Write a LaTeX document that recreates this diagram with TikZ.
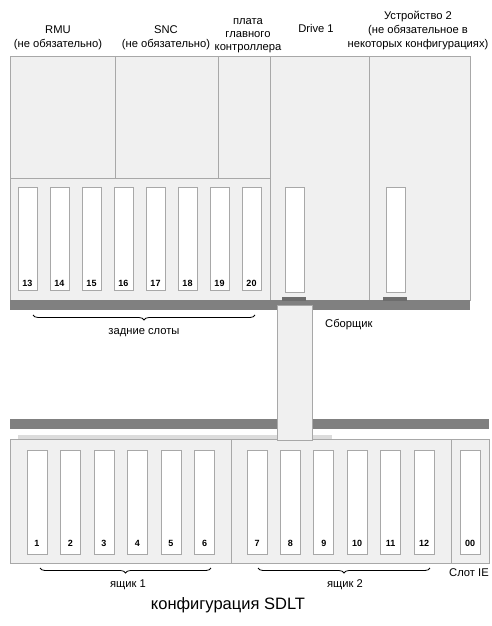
\documentclass[tikz,border=0pt]{standalone}
\usepackage{fontspec}
\setmainfont{Liberation Sans}
\usetikzlibrary{decorations.pathreplacing}
\definecolor{panel}{HTML}{F0F0F0}
\definecolor{edge}{HTML}{A8A8A8}
\definecolor{bar}{HTML}{808080}
\definecolor{rail}{HTML}{DCDCDC}
\tikzset{
  panelbox/.style={fill=panel,draw=edge,line width=0.8pt},
  barbox/.style={fill=bar,draw=none},
  slotbox/.style={rectangle,fill=white,draw=edge,line width=0.8pt,inner sep=0pt,outer sep=0pt,minimum width=19pt,minimum height=103pt},
  bslot/.style={slotbox,minimum width=20pt,minimum height=104pt},
  num/.style={font=\fontsize{9}{10}\selectfont\bfseries,inner sep=0pt},
  lbl/.style={font=\fontsize{11.2}{14}\selectfont,align=center,inner sep=0pt},
  bracedec/.style={decorate,decoration={brace,mirror,amplitude=5pt},line width=0.8pt},
  connbox/.style={fill=bar!85!black,draw=none}
}
\begin{document}
\begin{tikzpicture}[x=1pt,y=-1pt]
\useasboundingbox (0,0) rectangle (492,626);
% top chassis
\draw[panelbox] (10,56) rectangle (270,178);
\draw[edge,line width=0.8pt] (115,56) -- (115,178) (218,56) -- (218,178);
\draw[panelbox] (10,178) rectangle (270,300);
\draw[panelbox] (270,56) rectangle (369,300);
\draw[panelbox] (369,56) rectangle (470,300);
\fill[barbox] (10,300) rectangle (470,310);
% rear slots
\foreach \n [count=\i from 0] in {13,...,20} {
  \node[slotbox] (s\n) at (27.5+32*\i,238.5) {};
  \node[num] (n\n) at (27.5+32*\i,283) {\n};
}
\node[slotbox,minimum height=105pt] (sd1) at (294.5,239.5) {};
\node[slotbox,minimum height=105pt] (sd2) at (395.5,239.5) {};
\fill[connbox] (282,297) rectangle (306,301);
\fill[connbox] (383,297) rectangle (407,301);
% bottom chassis
\fill[barbox] (10,419) rectangle (489,429);
\fill[rail] (18,435) rectangle (332,438.5);
\draw[panelbox] (10,439) rectangle (231,563);
\draw[panelbox] (231,439) rectangle (451,563);
\draw[panelbox] (451,439) rectangle (489,563);
\foreach \n [count=\i from 0] in {1,...,6} {
  \node[bslot] (s\n) at (37+33.5*\i,502) {};
  \node[num] (n\n) at (37+33.5*\i,543) {\n};
}
\foreach \n [count=\i from 0] in {7,...,12} {
  \node[bslot] (s\n) at (257+33.4*\i,502) {};
  \node[num] (n\n) at (257+33.4*\i,543) {\n};
}
\node[bslot] (s00) at (470,502) {};
\node[num] (n00) at (470,543) {00};
% picker column
\draw[panelbox] (277,305) rectangle (312,440);
% top labels
\node[lbl] (rmu) at (58,38) {RMU\\(не обязательно)};
\node[lbl] (snc) at (166,38) {SNC\\(не обязательно)};
\node[lbl,font=\fontsize{11.2}{13}\selectfont] (ctl) at (248,35.5) {плата\\главного\\контроллера};
\node[lbl] (drv) at (316,28) {Drive 1};
\node[lbl] (dev) at (418,31) {Устройство 2\\(не обязательное в\\некоторых конфигурациях)};
\node[lbl,anchor=west] (pick) at (325,325) {Сборщик};
% braces
\coordinate (b1a) at (33,315); \coordinate (b1b) at (255,315);
\draw[bracedec] (b1a) -- (b1b);
\node[lbl] (rear) at (144,333) {задние слоты};
\coordinate (b2a) at (40,568); \coordinate (b2b) at (211,568);
\draw[bracedec] (b2a) -- (b2b);
\node[lbl] (box1) at (128,585) {ящик 1};
\coordinate (b3a) at (258,568); \coordinate (b3b) at (430,568);
\draw[bracedec] (b3a) -- (b3b);
\node[lbl] (box2) at (345,585) {ящик 2};
\node[lbl] (ie) at (469,573) {Слот IE};
\node[font=\fontsize{16.5}{19}\selectfont,inner sep=0pt] (title) at (228,605) {конфигурация SDLT};
\end{tikzpicture}
\end{document}
